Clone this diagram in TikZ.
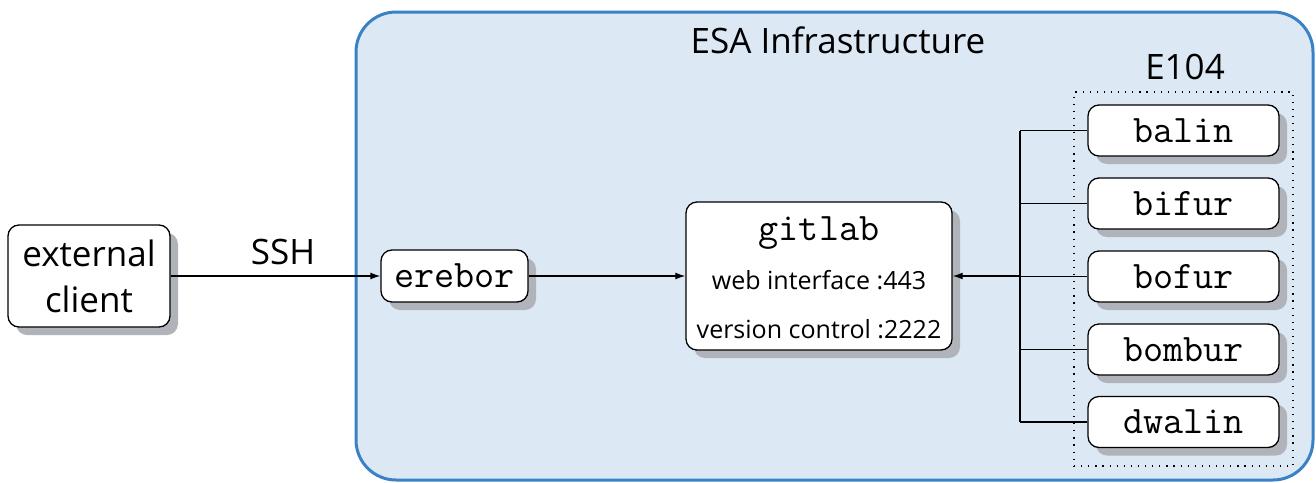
\documentclass[tikz,border=0pt]{standalone}
\usepackage{fontspec}
\setmainfont{Open Sans}
\usetikzlibrary{arrows.meta,shadows}
\definecolor{esafill}{RGB}{221,232,245}
\definecolor{esaline}{RGB}{58,130,196}
\definecolor{shadowc}{RGB}{176,180,186}
\tikzset{
  bigsans/.style={font=\fontsize{35}{46}\selectfont},
  smallsans/.style={font=\fontsize{25}{30}\selectfont},
  monotext/.style={font=\fontsize{39}{46}\selectfont\ttfamily},
  hostbox/.style={draw=black, line width=1.3pt, rounded corners=11pt, fill=white,
    inner sep=0pt, drop shadow={shadow xshift=8pt, shadow yshift=-8pt, fill=shadowc, opacity=1}},
  workerbox/.style={hostbox, monotext, minimum width=191pt, minimum height=51pt},
  esabox/.style={draw=esaline, fill=esafill, line width=3pt, rounded corners=40pt,
    inner sep=0pt, minimum width=957pt, minimum height=468pt},
  roombox/.style={draw=black, line width=1.2pt, dash pattern=on 1.2pt off 5.9pt,
    inner sep=0pt, minimum width=219pt, minimum height=374pt},
  conn/.style={draw=black, line width=1.3pt},
  arr/.style={conn, -{Latex[length=10pt,width=7pt]}},
}
\begin{document}
\begin{tikzpicture}[x=1pt,y=-1pt]
\useasboundingbox (0,0) rectangle (1316,482);
% container
\node[esabox] (esa) at (834.5,246) {};
\node[bigsans] (esatitle) at (838,40) {ESA Infrastructure};
% room E104
\node[roombox] (room) at (1183.5,279) {};
\node[bigsans] (roomtitle) at (1185,67) {E104};
% hosts
\node[hostbox, bigsans, align=center, minimum width=162pt, minimum height=102pt] (client) at (89,276) {external\\client};
\node[hostbox, monotext, minimum width=147pt, minimum height=52pt] (erebor) at (454.5,276) {erebor};
\node[hostbox, minimum width=266pt, minimum height=148pt] (gitlab) at (819,276) {};
\node[monotext, anchor=base] (gltitle) at (819,240) {gitlab};
\node[smallsans, anchor=base] (glweb) at (819,289) {web interface :443};
\node[smallsans, anchor=base] (glvcs) at (819,338) {version control :2222};
% workers
\node[workerbox] (balin) at (1183.5,130.5) {balin};
\node[workerbox] (bifur) at (1183.5,203.5) {bifur};
\node[workerbox] (bofur) at (1183.5,276.5) {bofur};
\node[workerbox] (bombur) at (1183.5,349.5) {bombur};
\node[workerbox] (dwalin) at (1183.5,422) {dwalin};
% connectors
\draw[arr] (client.east) -- (erebor.west);
\node[bigsans] (ssh) at (283,252) {SSH};
\draw[arr] (erebor.east) -- (gitlab.west);
\coordinate (bus) at (1020,276);
\draw[conn] (balin.west -| bus) -- (dwalin.west -| bus);
\foreach \w in {balin,bifur,bofur,bombur,dwalin}
  \draw[conn] (\w.west) -- (\w.west -| bus);
\draw[arr] (bus) -- (gitlab.east);
\end{tikzpicture}
\end{document}
